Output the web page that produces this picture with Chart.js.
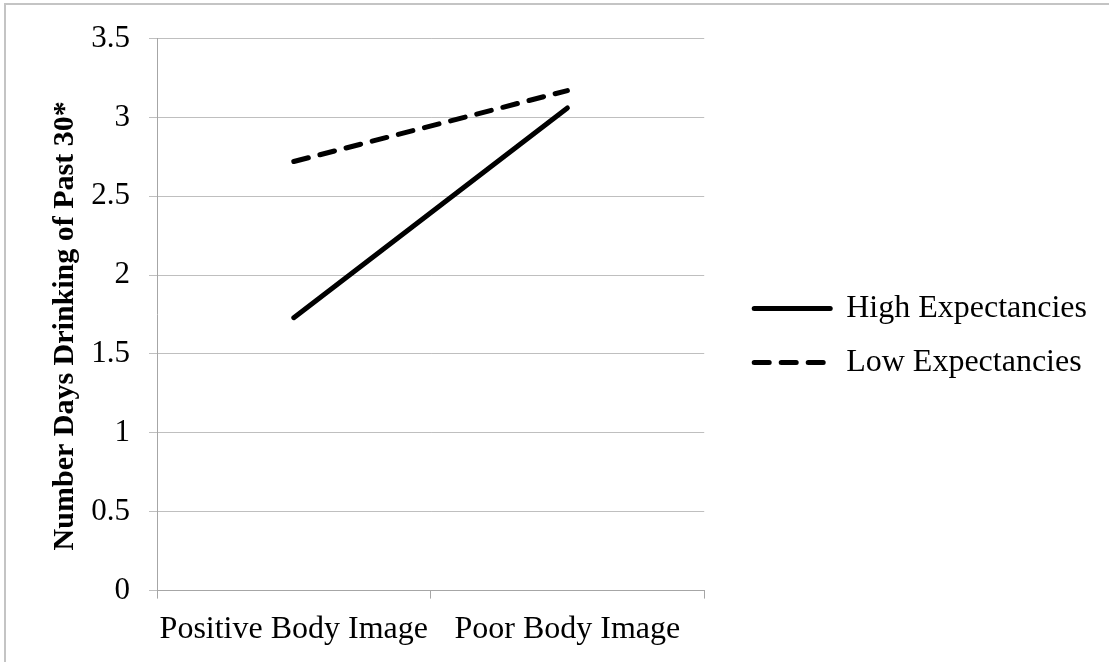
<!DOCTYPE html>
<html><head><meta charset="utf-8">
<script src="https://cdn.jsdelivr.net/npm/chart.js@4/dist/chart.umd.min.js"></script>
<style>
html,body{margin:0;padding:0;background:#fff;overflow:hidden;}
#wrap{position:relative;width:1109px;height:662px;overflow:hidden;}
#frame{position:absolute;left:4px;top:3px;width:1200px;height:800px;border-top:2px solid #c4c4c4;border-left:2px solid #c4c4c4;pointer-events:none;}
canvas{display:block;}
</style></head><body>
<div id="wrap"><canvas id="c" width="1109" height="662"></canvas><div id="frame"></div></div>
<script>
const categories = ['Positive Body Image', 'Poor Body Image'];
const seriesNames = ['High Expectancies', 'Low Expectancies'];
const highExpectancies = [1.73, 3.06];
const lowExpectancies = [2.72, 3.17];
const yTickLabels = ['0', '0.5', '1', '1.5', '2', '2.5', '3', '3.5'];
const yAxisTitle = 'Number Days Drinking of Past 30*';

const FONT = 'Liberation Serif';
const gridColor = '#bfbfbf';
const axisColor = '#a6a6a6';

new Chart(document.getElementById('c'), {
  type: 'line',
  data: {
    labels: categories,
    datasets: [
      { label: seriesNames[0], data: highExpectancies, borderColor: '#000', backgroundColor: '#000',
        borderWidth: 5, borderCapStyle: 'round', pointRadius: 0, tension: 0, fill: false },
      { label: seriesNames[1], data: lowExpectancies, borderColor: '#000', backgroundColor: '#000',
        borderWidth: 5, borderCapStyle: 'round', borderDash: [15, 12], pointRadius: 0, tension: 0, fill: false }
    ]
  },
  options: {
    responsive: false,
    devicePixelRatio: 1,
    animation: false,
    layout: { padding: { left: 43, top: 10, right: 12, bottom: 1 } },
    plugins: {
      tooltip: { enabled: false },
      legend: {
        position: 'right',
        maxWidth: 420,
        labels: {
          usePointStyle: true, pointStyle: 'line', pointStyleWidth: 76,
          padding: 22, color: '#000', font: { family: FONT, size: 32 },
          generateLabels: chart => Chart.defaults.plugins.legend.labels.generateLabels(chart).map(item => {
            const ds = chart.data.datasets[item.datasetIndex];
            return Object.assign(item, {
              lineDash: ds.borderDash || [], lineWidth: ds.borderWidth, lineCap: ds.borderCapStyle,
              strokeStyle: ds.borderColor, fillStyle: ds.borderColor, pointStyle: 'line'
            });
          })
        }
      }
    },
    scales: {
      x: {
        type: 'category',
        offset: true,
        grid: { offset: true, drawOnChartArea: false, drawTicks: true, tickLength: 8, color: axisColor },
        border: { color: axisColor },
        ticks: { padding: 12, color: '#000', font: { family: FONT, size: 32 }, maxRotation: 0, autoSkip: false }
      },
      y: {
        min: 0, max: 3.5,
        ticks: { stepSize: 0.5, padding: 19, color: '#000', font: { family: FONT, size: 31 },
          callback: (v, i) => yTickLabels[i] },
        grid: { color: gridColor, tickLength: 8 },
        border: { color: axisColor },
        title: { display: true, text: yAxisTitle + '   ', color: '#000', padding: { top: 4, bottom: 4 },
          font: { family: FONT, size: 30, weight: 'bold' } },
        afterFit: s => { s.width = 114; s.paddingTop = 38.5; }
      },
      gap: {
        type: 'linear', position: 'right', display: true,
        grid: { display: false, drawTicks: false },
        border: { display: false },
        ticks: { display: false },
        afterFit: s => { s.width = 28; }
      }
    }
  }
});
</script>
</body></html>
